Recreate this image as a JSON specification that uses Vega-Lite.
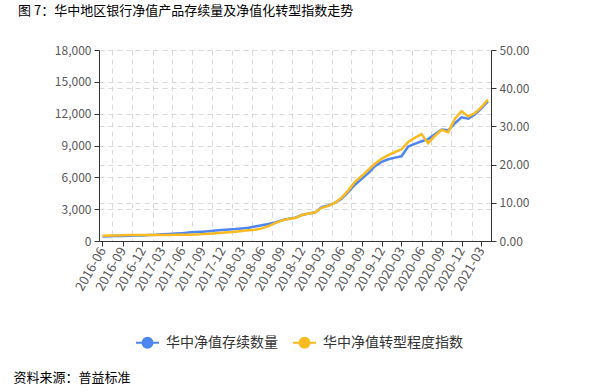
{
  "$schema": "https://vega.github.io/schema/vega-lite/v6.json",
  "width": 392,
  "height": 191,
  "autosize": {"type": "none"},
  "padding": {"left": 99, "top": 50, "right": 98, "bottom": 151},
  "background": "white",
  "config": {
    "font": "Noto Sans CJK SC",
    "view": {"stroke": null},
    "axis": {"labelFont": "Noto Sans CJK SC", "labelColor": "#595959", "labelFontSize": 12, "domainColor": "#333333", "tickColor": "#333333", "gridColor": "#d9d9d9", "gridDash": [5, 4], "gridWidth": 1}
  },
  "title": {"text": "图 7：华中地区银行净值产品存续量及净值化转型指数走势", "anchor": "start", "frame": "group", "dx": -81, "fontSize": 13, "fontWeight": "normal", "color": "#000000", "font": "Noto Sans CJK SC", "offset": 26},
  "data": {"values": [
    {"month": "2016-06", "count": 420, "index": 1.40},
    {"month": "2016-07", "count": 440, "index": 1.42},
    {"month": "2016-08", "count": 460, "index": 1.45},
    {"month": "2016-09", "count": 480, "index": 1.50},
    {"month": "2016-10", "count": 500, "index": 1.55},
    {"month": "2016-11", "count": 510, "index": 1.58},
    {"month": "2016-12", "count": 530, "index": 1.60},
    {"month": "2017-01", "count": 560, "index": 1.60},
    {"month": "2017-02", "count": 590, "index": 1.58},
    {"month": "2017-03", "count": 630, "index": 1.57},
    {"month": "2017-04", "count": 660, "index": 1.60},
    {"month": "2017-05", "count": 700, "index": 1.62},
    {"month": "2017-06", "count": 740, "index": 1.63},
    {"month": "2017-07", "count": 790, "index": 1.65},
    {"month": "2017-08", "count": 840, "index": 1.72},
    {"month": "2017-09", "count": 880, "index": 1.80},
    {"month": "2017-10", "count": 930, "index": 1.90},
    {"month": "2017-11", "count": 980, "index": 2.05},
    {"month": "2017-12", "count": 1040, "index": 2.17},
    {"month": "2018-01", "count": 1080, "index": 2.30},
    {"month": "2018-02", "count": 1120, "index": 2.45},
    {"month": "2018-03", "count": 1180, "index": 2.60},
    {"month": "2018-04", "count": 1250, "index": 2.80},
    {"month": "2018-05", "count": 1370, "index": 2.95},
    {"month": "2018-06", "count": 1480, "index": 3.30},
    {"month": "2018-07", "count": 1600, "index": 3.90},
    {"month": "2018-08", "count": 1750, "index": 4.70},
    {"month": "2018-09", "count": 1950, "index": 5.40},
    {"month": "2018-10", "count": 2100, "index": 5.75},
    {"month": "2018-11", "count": 2200, "index": 6.00},
    {"month": "2018-12", "count": 2450, "index": 6.80},
    {"month": "2019-01", "count": 2580, "index": 7.20},
    {"month": "2019-02", "count": 2700, "index": 7.50},
    {"month": "2019-03", "count": 3200, "index": 8.70},
    {"month": "2019-04", "count": 3350, "index": 9.20},
    {"month": "2019-05", "count": 3600, "index": 10.00},
    {"month": "2019-06", "count": 3980, "index": 11.30},
    {"month": "2019-07", "count": 4600, "index": 13.20},
    {"month": "2019-08", "count": 5300, "index": 15.50},
    {"month": "2019-09", "count": 5850, "index": 17.00},
    {"month": "2019-10", "count": 6400, "index": 18.60},
    {"month": "2019-11", "count": 7050, "index": 20.20},
    {"month": "2019-12", "count": 7450, "index": 21.50},
    {"month": "2020-01", "count": 7700, "index": 22.50},
    {"month": "2020-02", "count": 7860, "index": 23.30},
    {"month": "2020-03", "count": 7980, "index": 24.00},
    {"month": "2020-04", "count": 8900, "index": 25.90},
    {"month": "2020-05", "count": 9150, "index": 27.00},
    {"month": "2020-06", "count": 9400, "index": 28.00},
    {"month": "2020-07", "count": 9600, "index": 25.60},
    {"month": "2020-08", "count": 10050, "index": 27.50},
    {"month": "2020-09", "count": 10500, "index": 29.10},
    {"month": "2020-10", "count": 10430, "index": 28.50},
    {"month": "2020-11", "count": 11100, "index": 32.00},
    {"month": "2020-12", "count": 11650, "index": 34.00},
    {"month": "2021-01", "count": 11530, "index": 32.60},
    {"month": "2021-02", "count": 11950, "index": 33.50},
    {"month": "2021-03", "count": 12480, "index": 35.00},
    {"month": "2021-04", "count": 13150, "index": 37.00}
  ]},
  "layer": [
    {
      "mark": {"type": "line", "strokeWidth": 2.5, "clip": false},
      "encoding": {
        "x": {"field": "month", "type": "temporal",
          "scale": {"type": "utc", "domain": [{"year": 2016, "month": 5, "date": 16, "utc": true}, {"year": 2021, "month": 4, "date": 15, "utc": true}]},
          "axis": {"orient": "bottom", "labelExpr": "utcFormat(datum.value, '%Y-%m')", "labelOverlap": false, "grid": false, "labelAngle": -60, "labelAlign": "right", "labelBaseline": "middle", "labelFontSize": 13, "tickSize": 5, "labelPadding": 2,
            "values": [
              {"year": 2016, "month": 6, "date": 1, "utc": true}, {"year": 2016, "month": 9, "date": 1, "utc": true}, {"year": 2016, "month": 12, "date": 1, "utc": true},
              {"year": 2017, "month": 3, "date": 1, "utc": true}, {"year": 2017, "month": 6, "date": 1, "utc": true}, {"year": 2017, "month": 9, "date": 1, "utc": true}, {"year": 2017, "month": 12, "date": 1, "utc": true},
              {"year": 2018, "month": 3, "date": 1, "utc": true}, {"year": 2018, "month": 6, "date": 1, "utc": true}, {"year": 2018, "month": 9, "date": 1, "utc": true}, {"year": 2018, "month": 12, "date": 1, "utc": true},
              {"year": 2019, "month": 3, "date": 1, "utc": true}, {"year": 2019, "month": 6, "date": 1, "utc": true}, {"year": 2019, "month": 9, "date": 1, "utc": true}, {"year": 2019, "month": 12, "date": 1, "utc": true},
              {"year": 2020, "month": 3, "date": 1, "utc": true}, {"year": 2020, "month": 6, "date": 1, "utc": true}, {"year": 2020, "month": 9, "date": 1, "utc": true}, {"year": 2020, "month": 12, "date": 1, "utc": true},
              {"year": 2021, "month": 3, "date": 1, "utc": true}
            ],
            "title": "资料来源：普益标准", "titleX": -86, "titleY": 136, "titleAnchor": "start", "titleAlign": "left", "titleBaseline": "middle", "titleFontSize": 13, "titleFontWeight": "normal", "titleColor": "#000000", "titleFont": "Noto Sans CJK SC"}},
        "y": {"field": "count", "type": "quantitative", "scale": {"domain": [0, 18000]},
          "axis": {"orient": "left", "title": null, "values": [0, 3000, 6000, 9000, 12000, 15000, 18000], "labelExpr": "format(datum.value, ',')", "tickSize": 5, "labelPadding": 3, "grid": true}},
        "color": {"datum": "华中净值存续数量", "type": "nominal",
          "scale": {"domain": ["华中净值存续数量", "华中净值转型程度指数"], "range": ["#4E86F0", "#FCBA21"]},
          "legend": {"orient": "none", "direction": "horizontal", "legendX": 36, "legendY": 280, "title": null, "padding": 0,
            "symbolType": "M-1,0L1,0M-0.43,0A0.43,0.43,0,1,1,0.43,0A0.43,0.43,0,1,1,-0.43,0Z",
            "symbolSize": 529, "symbolStrokeWidth": 2, "labelFontSize": 14, "labelColor": "#333333", "labelFont": "Noto Sans CJK SC", "labelOffset": 6, "columnPadding": 11,
            "encode": {"symbols": {"update": {"fill": {"scale": "color", "field": "value"}, "fillOpacity": {"value": 1}}}}}}
      }
    },
    {
      "mark": {"type": "line", "strokeWidth": 2.5, "clip": false},
      "encoding": {
        "x": {"field": "month", "type": "temporal",
          "axis": {"orient": "bottom", "grid": true, "labels": false, "ticks": false, "domain": false, "title": null,
            "values": [
              {"year": 2016, "month": 7, "date": 16, "utc": true}, {"year": 2016, "month": 10, "date": 16, "utc": true},
              {"year": 2017, "month": 1, "date": 16, "utc": true}, {"year": 2017, "month": 4, "date": 16, "utc": true}, {"year": 2017, "month": 7, "date": 16, "utc": true}, {"year": 2017, "month": 10, "date": 16, "utc": true},
              {"year": 2018, "month": 1, "date": 16, "utc": true}, {"year": 2018, "month": 4, "date": 16, "utc": true}, {"year": 2018, "month": 7, "date": 16, "utc": true}, {"year": 2018, "month": 10, "date": 16, "utc": true},
              {"year": 2019, "month": 1, "date": 16, "utc": true}, {"year": 2019, "month": 4, "date": 16, "utc": true}, {"year": 2019, "month": 7, "date": 16, "utc": true}, {"year": 2019, "month": 10, "date": 16, "utc": true},
              {"year": 2020, "month": 1, "date": 16, "utc": true}, {"year": 2020, "month": 4, "date": 16, "utc": true}, {"year": 2020, "month": 7, "date": 16, "utc": true}, {"year": 2020, "month": 10, "date": 16, "utc": true},
              {"year": 2021, "month": 1, "date": 16, "utc": true}
            ]}},
        "y": {"field": "index", "type": "quantitative", "scale": {"domain": [0, 50]},
          "axis": {"orient": "right", "title": null, "values": [0, 10, 20, 30, 40, 50], "labelExpr": "format(datum.value, '.2f')", "tickSize": 5, "labelPadding": 3, "grid": true}},
        "color": {"datum": "华中净值转型程度指数", "type": "nominal"}
      }
    }
  ],
  "resolve": {"scale": {"y": "independent"}, "axis": {"y": "independent", "x": "independent"}}
}
